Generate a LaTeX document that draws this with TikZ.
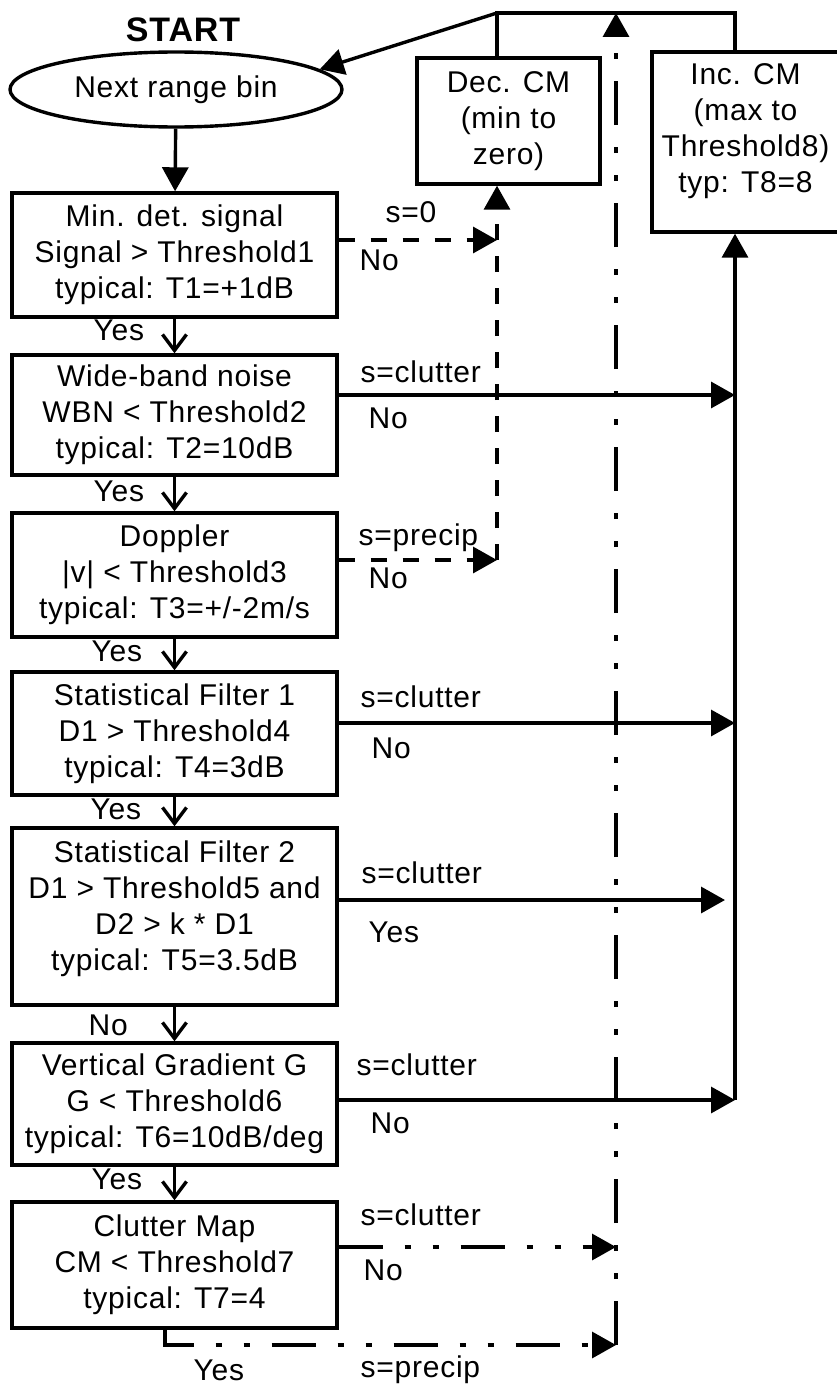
\documentclass[tikz,border=0pt]{standalone}
\usepackage{fontspec}
\setmainfont{Liberation Sans}[LetterSpace=2.5]
\usetikzlibrary{arrows.meta,positioning,shapes.geometric}

\begin{document}
\begin{tikzpicture}[x=1pt,y=-1pt,line width=3.4pt,
    every node/.style={font=\fontsize{30}{36}\selectfont,align=center,inner sep=2pt},
    testbox/.style={draw,rectangle,minimum width=325pt},
    bin/.style={draw,ellipse,minimum width=332pt,minimum height=75pt,inner sep=0pt},
    note/.style={anchor=base west},
    yes/.style={-{Straight Barb[length=16pt,width=24pt]}},
    flow/.style={-{Triangle[length=24pt,width=26pt]}},
    dashflow/.style={flow,dash pattern=on 16pt off 16pt},
    mapflow/.style={flow,dash pattern=on 44pt off 22pt on 6pt off 22pt on 6pt off 22pt}]
    \useasboundingbox (0,0) rectangle (837,1389);

    % start and the test chain
    \node[font=\bfseries\fontsize{34}{40}\selectfont] (start) at (183,30) {START};
    \node[bin] (bin) at (176,89.5) {Next range bin};
    \node[testbox,minimum height=124pt] (b1) at (174.5,255) {Min. det. signal\\Signal > Threshold1\\typical: T1=+1dB};
    \node[testbox,minimum height=120pt] (b2) at (174.5,415) {Wide-band noise\\WBN < Threshold2\\typical: T2=10dB};
    \node[testbox,minimum height=124pt] (b3) at (174.5,575) {Doppler\\|v| < Threshold3\\typical: T3=+/-2m/s};
    \node[testbox,minimum height=123pt] (b4) at (174.5,733.5) {Statistical Filter 1\\D1 > Threshold4\\typical: T4=3dB};
    \node[testbox,minimum height=177pt] (b5) at (174.5,916.5) {Statistical Filter 2\\D1 > Threshold5 and\\D2 > k * D1\\typical: T5=3.5dB\\[-14pt]\mbox{}};
    \node[testbox,minimum height=122pt] (b6) at (174.5,1104) {Vertical Gradient G\\G < Threshold6\\typical: T6=10dB/deg};
    \node[testbox,minimum height=126pt] (b7) at (174.5,1265) {Clutter Map\\CM < Threshold7\\typical: T7=4};

    % clutter map updates
    \node[draw,minimum width=183pt,minimum height=126pt] (dec) at (508.5,121) {Dec. CM\\(min to\\zero)};
    \node[draw,minimum width=187pt,minimum height=180pt] (inc) at (745.5,142) {Inc. CM\\(max to\\Threshold8)\\typ: T8=8\\[-8pt]\mbox{}};

    \coordinate (top) at (497,13);
    \coordinate (topr) at (735,13);
    \coordinate (e1) at (497,240);
    \coordinate (e2) at (735,395);
    \coordinate (e3) at (497,560);
    \coordinate (e4) at (735,723);
    \coordinate (e5) at (725,900);
    \coordinate (cmup) at (735,1100);
    \coordinate (e7) at (616,1247);
    \coordinate (yesturn) at (165,1345);
    \coordinate (mapfoot) at (616,1345);
    \coordinate (maptop) at (616,13);

    \draw[flow] (bin) -- (b1);
    \draw[yes] (b1) -- (b2);
    \draw[yes] (b2) -- (b3);
    \draw[yes] (b3) -- (b4);
    \draw[yes] (b4) -- (b5);
    \draw[yes] (b5) -- (b6);
    \draw[yes] (b6) -- (b7);

    \draw (dec.north -| top) -- (top) -- (topr) -- (topr |- inc.north);
    \draw[flow] (top) -- (bin.8);

    \draw[dashflow] (b1.east |- e1) -- (e1);
    \draw[dashflow] (b3.east |- e3) -- (e3);
    \draw[dashflow] (e3) -- (e3 |- dec.south);

    \draw[flow] (b2.east |- e2) -- (e2);
    \draw[flow] (b4.east |- e4) -- (e4);
    \draw[flow] (b5.east |- e5) -- (e5);
    \draw[flow] (b6.east |- cmup) -- (cmup);
    \draw[flow] (cmup) -- (cmup |- inc.south);

    \draw[mapflow] (b7.east |- e7) -- (e7);
    \draw[mapflow] (yesturn |- b7.south) -- (yesturn) -- (mapfoot);
    \draw[mapflow] (mapfoot) -- (maptop);

    % labels
    \node[note] (n1s) at (382,222) {s=0};
    \node[note] (n1n) at (356,270) {No};
    \node[note] (n2s) at (357,382) {s=clutter};
    \node[note] (n2n) at (365,428) {No};
    \node[note] (n3s) at (355,545) {s=precip};
    \node[note] (n3n) at (365,588) {No};
    \node[note] (n4s) at (357,707) {s=clutter};
    \node[note] (n4n) at (368,758) {No};
    \node[note] (n5s) at (358,883) {s=clutter};
    \node[note] (n5y) at (365,942) {Yes};
    \node[note] (n6s) at (353,1075) {s=clutter};
    \node[note] (n6n) at (367,1133) {No};
    \node[note] (n7s) at (357,1225) {s=clutter};
    \node[note] (n7n) at (360,1280) {No};
    \node[note] (n8y) at (190,1380) {Yes};
    \node[note] (n8s) at (357,1377) {s=precip};
    \node[note] (y1) at (90,340) {Yes};
    \node[note] (y2) at (90,501) {Yes};
    \node[note] (y3) at (88,661) {Yes};
    \node[note] (y4) at (87,819) {Yes};
    \node[note] (y5) at (85,1035) {No};
    \node[note] (y6) at (88,1189) {Yes};
  \end{tikzpicture}
\end{document}
